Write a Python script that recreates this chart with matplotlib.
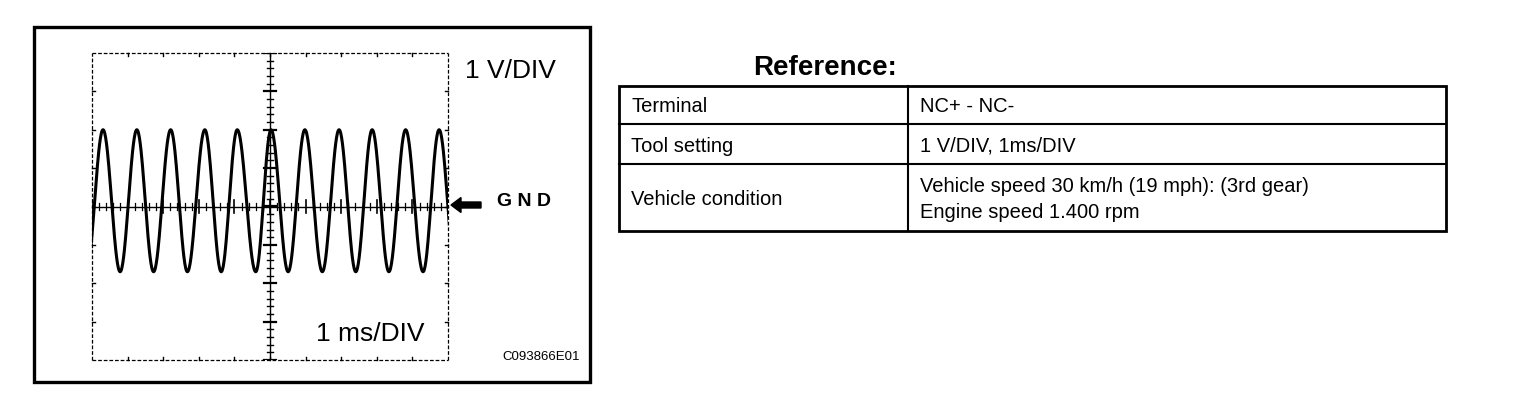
import numpy as np
import matplotlib
matplotlib.use("Agg")
import matplotlib.pyplot as plt
from matplotlib.patches import FancyArrow, Rectangle

plt.rcParams['font.family'] = ['Liberation Sans', 'DejaVu Sans']

# ---- data ----
# extrema of the oscilloscope trace (time in ms, voltage in V), alternating trough/peak
trace_times = [-0.16, 0.31, 0.79, 1.26, 1.73, 2.21, 2.68, 3.17, 3.63, 4.08, 4.60,
               5.03, 5.51, 5.98, 6.47, 6.94, 7.41, 7.87, 8.34, 8.81, 9.30, 9.75, 10.22]
trace_volts = [-1.7, 2.0, -1.7, 2.0, -1.7, 2.0, -1.7, 2.0, -1.7, 2.0, -1.7,
               2.0, -1.7, 2.0, -1.7, 2.0, -1.7, 2.0, -1.7, 2.0, -1.7, 2.0, -1.7]
time_divs = 10      # 1 ms/DIV
volt_divs = 8       # 1 V/DIV
volt_label = "1 V/DIV"
time_label = "1 ms/DIV"
gnd_label = "G N D"
figure_code = "C093866E01"
table_title = "Reference:"
table_rows = ["Terminal", "Tool setting", "Vehicle condition"]
table_values = ["NC+ - NC-", "1 V/DIV, 1ms/DIV",
                "Vehicle speed 30 km/h (19 mph): (3rd gear)\nEngine speed 1.400 rpm"]

W, H = 1536, 400
fig = plt.figure(figsize=(W / 100, H / 100), dpi=100)
fig.patch.set_facecolor("white")

# overlay in pixel coordinates
ov = fig.add_axes([0, 0, 1, 1])
ov.set_xlim(0, W)
ov.set_ylim(H, 0)
ov.axis("off")

# outer frame of the scope picture
ov.add_patch(Rectangle((34, 27), 556, 355, fill=False, lw=2.4, ec="black"))

# scope axes
gx0, gx1, gy0, gy1 = 92, 448, 53, 360
ax = fig.add_axes([gx0 / W, (H - gy1) / H, (gx1 - gx0) / W, (gy1 - gy0) / H])
ax.set_facecolor("none")
ax.set_xlim(0, time_divs)
ax.set_ylim(-volt_divs / 2, volt_divs / 2)
for s in ax.spines.values():
    s.set_visible(False)
ax.set_xticks([])
ax.set_yticks([])

# dotted border
bkw = dict(color="black", lw=0.9, ls=(0, (3, 1.5)))
ax.plot([0, time_divs], [4, 4], **bkw, clip_on=False)
ax.plot([0, time_divs], [-4, -4], **bkw, clip_on=False)
ax.plot([0, 0], [-4, 4], **bkw, clip_on=False)
ax.plot([time_divs, time_divs], [-4, 4], **bkw, clip_on=False)
# border division ticks
for i in range(1, time_divs):
    ax.plot([i, i], [4, 3.93], color="black", lw=1, clip_on=False)
    ax.plot([i, i], [-4, -3.93], color="black", lw=1, clip_on=False)
for j in range(-3, 4):
    ax.plot([0, 0.08], [j, j], color="black", lw=1, clip_on=False)
    ax.plot([time_divs, time_divs - 0.08], [j, j], color="black", lw=1, clip_on=False)

# centre cross with minor ticks
ax.plot([5, 5], [-4, 4], color="black", lw=1.0)
ax.plot([0, time_divs], [0, 0], color="black", lw=1.0)
for k in np.arange(-4, 4.01, 0.2):
    major = abs(k - round(k)) < 1e-6
    hw = 0.17 if major else 0.08
    ax.plot([5 - hw, 5 + hw], [k, k], color="black", lw=1.6 if major else 1.0)
for k in np.arange(0, time_divs + 0.01, 0.2):
    major = abs(k - round(k)) < 1e-6
    hh = 0.16 if major else 0.08
    ax.plot([k, k], [-hh, hh], color="black", lw=1.2 if major else 0.9)

# trace: half-cosine joins between read extrema
tt, vv = [], []
for i in range(len(trace_times) - 1):
    s = np.linspace(0, 1, 40)
    tt.extend(trace_times[i] + (trace_times[i + 1] - trace_times[i]) * s)
    vv.extend(trace_volts[i] + (trace_volts[i + 1] - trace_volts[i]) * (1 - np.cos(np.pi * s)) / 2)
ax.plot(tt, vv, color="black", lw=2.2, solid_joinstyle="round")

# scope labels
ov.text(556, 71, volt_label, ha="right", va="center", fontsize=19)
ov.text(425, 334, time_label, ha="right", va="center", fontsize=19)
ov.text(497, 201, gnd_label, ha="left", va="center", fontsize=14, fontweight="bold")
ov.text(580, 357, figure_code, ha="right", va="center", fontsize=9.5)
ov.add_patch(FancyArrow(481, 205, -20, 0, width=6, head_width=15, head_length=10,
                        length_includes_head=False, color="black"))

# reference table
ov.text(825, 68, table_title, ha="center", va="center", fontsize=20, fontweight="bold")
tx0, tx1, tx2 = 619, 908, 1446
ty = [86, 124, 164, 231]
ov.add_patch(Rectangle((tx0, ty[0]), tx2 - tx0, ty[-1] - ty[0], fill=False, lw=2.0, ec="black"))
ov.plot([tx1, tx1], [ty[0], ty[-1]], color="black", lw=1.5)
for y in ty[1:-1]:
    ov.plot([tx0, tx2], [y, y], color="black", lw=1.5)
for i, (lab, val) in enumerate(zip(table_rows, table_values)):
    yc = (ty[i] + ty[i + 1]) / 2 + 2
    ov.text(tx0 + 12, yc, lab, ha="left", va="center", fontsize=14.5)
    ov.text(tx1 + 12, yc, val, ha="left", va="center", fontsize=14.5, linespacing=1.4)

fig.savefig("out.png", dpi=100, facecolor="white")
